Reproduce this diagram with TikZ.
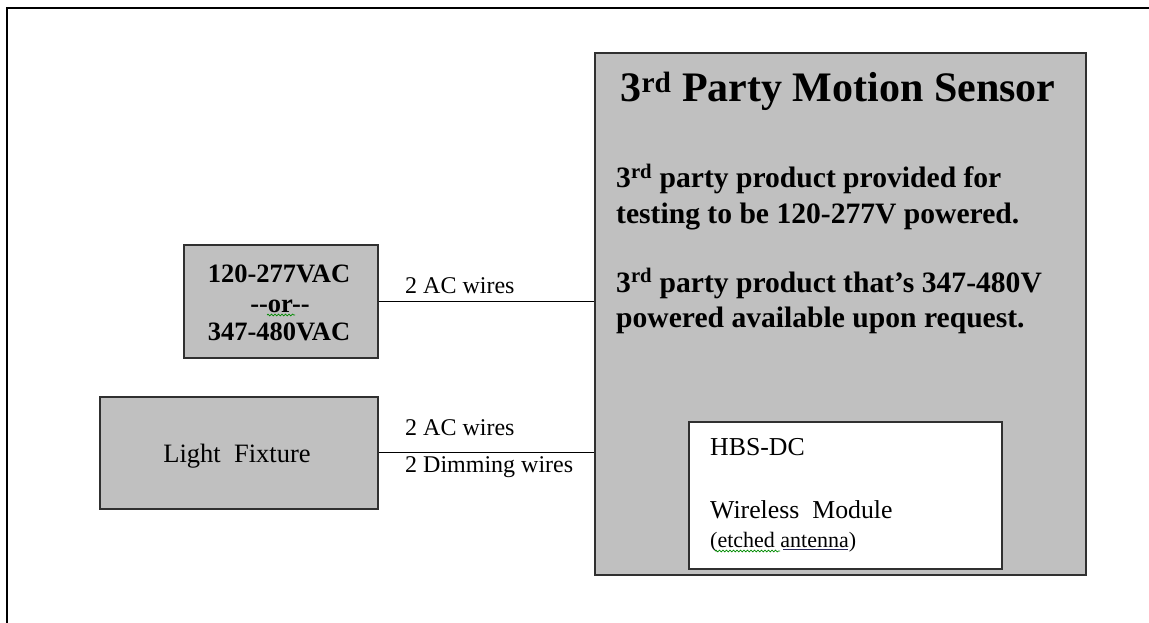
\documentclass[tikz,border=0pt]{standalone}
\usepackage{fontspec}
\setmainfont{Liberation Serif}
\usetikzlibrary{decorations.pathmorphing}
\definecolor{boxgray}{HTML}{C0C0C0}
\definecolor{edge}{HTML}{303030}
\tikzset{
  graybox/.style={draw=edge, line width=1.6pt, fill=boxgray, anchor=north west, inner sep=0pt},
  whitebox/.style={draw=edge, line width=1.6pt, fill=white, anchor=north west, inner sep=0pt},
  txt/.style={inner sep=0pt, anchor=base west},
  ctxt/.style={inner sep=0pt, anchor=base},
  wire/.style={line width=1.3pt, draw=black},
  squig/.style={draw=green!55!black, line width=0.7pt, decorate, decoration={snake, segment length=3.5pt, amplitude=0.9pt}},
  bodyfont/.style={font=\fontsize{29.6}{35}\selectfont\bfseries},
  lblfont/.style={font=\fontsize{24}{28}\selectfont},
  boxfont/.style={font=\fontsize{26.5}{30}\selectfont\bfseries},
  modfont/.style={font=\fontsize{25.8}{30}\selectfont},
}
\begin{document}
\begin{tikzpicture}[x=1pt, y=-1pt]
\useasboundingbox (0,0) rectangle (1149,623);
% frame (top and left edges)
\draw[line width=2.2pt] (1149,8) -- (7,8) -- (7,623);

% sensor box
\node[graybox, minimum width=491pt, minimum height=522pt] (sensor) at (594,52) {};
\node[ctxt, font=\fontsize{42}{48}\selectfont\bfseries] (title) at (838,102) {3\textsuperscript{rd} Party Motion Sensor};
\node[txt, bodyfont] (b1) at (616,188) {3\textsuperscript{rd} party product provided for};
\node[txt, bodyfont] (b2) at (616,223) {testing to be 120-277V powered.};
\node[txt, bodyfont] (b3) at (616,292) {3\textsuperscript{rd} party product that’s 347-480V};
\node[txt, bodyfont] (b4) at (616,327) {powered available upon request.};

% wireless module
\node[whitebox, minimum width=313pt, minimum height=147pt] (module) at (688,421) {};
\node[txt, modfont] (m1) at (710,455) {HBS-DC};
\node[txt, modfont] (m2) at (710,518) {Wireless\ \ Module};
\node[txt, font=\fontsize{22}{26}\selectfont] (m3) at (710,547) {(etched antenna)};
\draw[squig] (715,551) -- (780,551);
\draw[edge!80!blue, line width=0.8pt] (783,549) -- (848,549);

% power source box
\node[graybox, minimum width=194pt, minimum height=113pt] (power) at (183,244) {};
\node[ctxt, boxfont] (p1) at (279,282) {120-277VAC};
\node[ctxt, boxfont] (p2) at (280,312) {-{}-or-{}-};
\draw[squig] (267,315) -- (295,315);
\node[ctxt, boxfont] (p3) at (279,340) {347-480VAC};

% light fixture box
\node[graybox, minimum width=278pt, minimum height=112pt] (light) at (99,396) {};
\node[ctxt, font=\fontsize{26.5}{30}\selectfont] (lf) at (237,462) {Light\ \ Fixture};

% connectors
\draw[wire] (power.east) -- (power.east -| sensor.west);
\draw[wire] (light.east) -- (light.east -| sensor.west);

% wire labels
\node[txt, lblfont] (w1) at (405,293) {2 AC wires};
\node[txt, lblfont] (w2) at (405,435) {2 AC wires};
\node[txt, lblfont] (w3) at (405,472) {2 Dimming wires};
\end{tikzpicture}
\end{document}
